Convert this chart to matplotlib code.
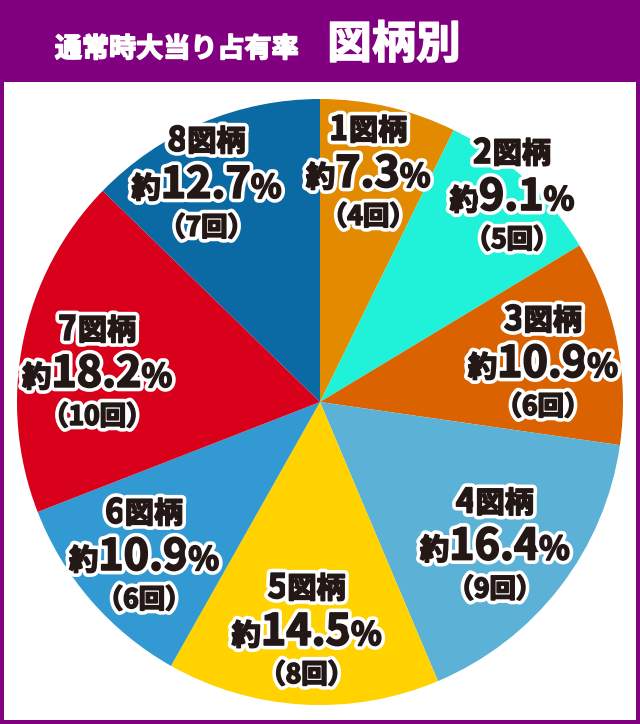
import matplotlib.pyplot as plt
import matplotlib.patheffects as pe
from matplotlib.patches import Rectangle
import numpy as np

plt.rcParams['font.family'] = ['Noto Sans CJK JP', 'DejaVu Sans']

# data
names = ['1', '2', '3', '4', '5', '6', '7', '8']
counts = [4, 5, 6, 9, 8, 6, 10, 7]
shares = ['7.3', '9.1', '10.9', '16.4', '14.5', '10.9', '18.2', '12.7']
colors = ['#E38B00', '#1FF2D8', '#DB6200', '#5BB2D6',
          '#FFD200', '#3399D2', '#D8001A', '#0B69A3']
title_main = '通常時大当り占有率'
title_sub = '図柄別'

# label placement (fraction of radius, angle nudge in degrees)
label_r = [0.76, 0.92, 0.745, 0.755, 0.77, 0.78, 0.74, 0.80]
label_nudge = [1, -1, -2.5, -2.5, 0, 1, 5, 5]

INK = '#231815'
PURPLE = '#80007F'
W, H = 640, 724

fig = plt.figure(figsize=(6.4, 7.24), dpi=100)
fig.patch.set_facecolor(PURPLE)
ax = fig.add_axes([0, 0, 1, 1])

ax.add_patch(Rectangle((4, 4), 632, 638, facecolor='white', edgecolor='none', zorder=0))

cx, cy, R = 320, 322, 303
wedges, _ = ax.pie(counts, colors=colors, startangle=90, counterclock=False,
                   center=(cx, cy), radius=R, frame=True,
                   wedgeprops=dict(linewidth=0))
ax.set_xlim(0, W)
ax.set_ylim(0, H)
ax.set_aspect('equal')
ax.axis('off')

renderer = fig.canvas.get_renderer()
# white halo, then a thin dark stroke to make the glyphs heavier
halo = [pe.Stroke(linewidth=6.5, foreground='white'),
        pe.Stroke(linewidth=1.3, foreground=INK),
        pe.Normal()]


def draw_line(x, y, runs):
    # a line of text made of pieces of different sizes, centred on x
    texts = []
    for s, size in runs:
        t = ax.text(0, y, s, fontsize=size, fontweight='bold', color=INK,
                    ha='left', va='baseline', path_effects=halo, zorder=5)
        texts.append(t)
    widths = [t.get_window_extent(renderer).width for t in texts]
    left = x - sum(widths) / 2
    for t, w in zip(texts, widths):
        t.set_x(left)
        left += w


for i, w in enumerate(wedges):
    ang = np.deg2rad((w.theta1 + w.theta2) / 2 + label_nudge[i])
    lx = cx + R * label_r[i] * np.cos(ang)
    ly = cy + R * label_r[i] * np.sin(ang)
    base = ly - 10
    draw_line(lx, base + 47, [(names[i], 24), ('図柄', 21)])
    draw_line(lx, base, [('約', 21), (shares[i], 31), ('%', 23)])
    draw_line(lx, base - 38, [('（%d回）' % counts[i], 19)])

bold_white = [pe.Stroke(linewidth=1.2, foreground='white'), pe.Normal()]
ax.text(177, 675, title_main, color='white', fontsize=19.5, fontweight='bold',
        ha='center', va='center', path_effects=bold_white)
ax.text(394, 679, title_sub, color='white', fontsize=32, fontweight='bold',
        ha='center', va='center', path_effects=bold_white)

fig.savefig('out.png', dpi=100, facecolor=PURPLE)
